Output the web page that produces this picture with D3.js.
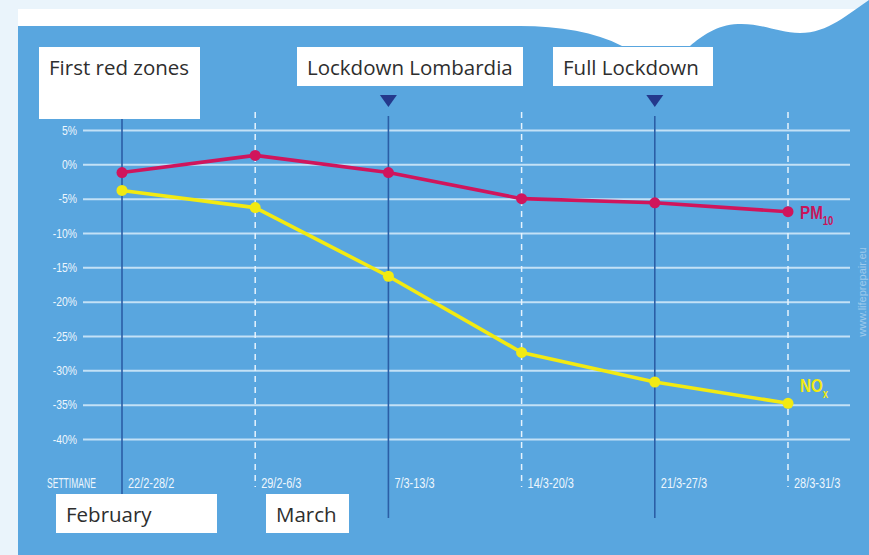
<!DOCTYPE html>
<html><head><meta charset="utf-8">
<script src="https://cdn.jsdelivr.net/npm/d3@7"></script>
<style>
html,body{margin:0;padding:0;background:#eaf4fb;}
svg{display:block;}
</style></head><body>
<svg id="chart" width="869" height="555"></svg>
<script>
// Weekly change in pollutant concentrations (%), Po valley, spring 2020
const weeks = ["22/2-28/2", "29/2-6/3", "7/3-13/3", "14/3-20/3", "21/3-27/3", "28/3-31/3"];
const pm10 = [-1.2, 1.3, -1.2, -5.0, -5.6, -6.9];
const nox = [-3.8, -6.3, -16.3, -27.4, -31.7, -34.8];
const yTicks = [5, 0, -5, -10, -15, -20, -25, -30, -35, -40];
const eventLabels = ["First red zones", "Lockdown Lombardia", "Full Lockdown"];
const eventWeeks = [0, 2, 4];
const monthLabels = ["February", "March"];

const W = 869, H = 555;
const svg = d3.select("#chart");
const narrow = "'Liberation Sans', Arial, sans-serif";
const mainFont = "'Open Sans', 'Noto Sans', sans-serif";
const labelWhite = "#eef6fd";

// Background: pale border, white header, blue panel with wavy top edge
svg.append("rect").attr("width", W).attr("height", H).attr("fill", "#eaf4fb");
svg.append("rect").attr("x", 18).attr("y", 9).attr("width", W - 18).attr("height", 60).attr("fill", "#ffffff");
svg.append("path")
  .attr("fill", "#59a6df")
  .attr("d", "M18,26 L520,26 C560,26 595,32 622,46 L690,46 C702,36 716,25 738,24 C762,23 778,33 800,33 C828,33 848,14 869,0 L869,555 L18,555 Z");

const x = d3.scalePoint().domain(weeks).range([122, 788]);
const y = d3.scaleLinear().domain([-40, 5]).range([439, 130]);

// Condensed text: regular glyphs squeezed horizontally
function narrowText(sel, tx, ty, sx) {
  return sel.attr("transform", `translate(${tx},${ty}) scale(${sx},1)`);
}

// Horizontal gridlines with percentage labels
const yAxis = svg.append("g")
  .attr("transform", "translate(83,0)")
  .call(d3.axisLeft(y).tickValues(yTicks).tickFormat(d => d + "%").tickSizeInner(-(850 - 83)).tickSizeOuter(0).tickPadding(6));
yAxis.select(".domain").remove();
yAxis.selectAll(".tick line").attr("stroke", "#d6ebfa").attr("stroke-opacity", 0.85).attr("stroke-width", 2);
yAxis.selectAll(".tick text")
  .attr("x", null)
  .attr("transform", "translate(-6,0) scale(0.8,1)")
  .attr("fill", labelWhite)
  .style("font-family", narrow)
  .style("font-size", "13px");

// Weekly vertical guides: solid at event weeks, dashed otherwise
const guideTop = [119, 112, 116, 112, 116, 112];
const guideBottom = [518, 487, 518, 487, 518, 487];
weeks.forEach((w, i) => {
  const solid = eventWeeks.includes(i);
  svg.append("line")
    .attr("x1", x(w)).attr("x2", x(w))
    .attr("y1", guideTop[i]).attr("y2", guideBottom[i])
    .attr("stroke", solid ? "#2b5ea6" : "#e6f3fd")
    .attr("stroke-width", solid ? 1.6 : 1.5)
    .attr("stroke-dasharray", solid ? null : "6,5");
});

// Week labels along the bottom
narrowText(svg.append("text"), 47, 488, 0.57).text("SETTIMANE")
  .attr("fill", labelWhite).style("font-family", narrow).style("font-size", "15px");
svg.selectAll("text.week").data(weeks).join("text")
  .attr("class", "week")
  .attr("transform", d => `translate(${x(d) + 6},488) scale(0.73,1)`)
  .text(d => d)
  .attr("fill", labelWhite).style("font-family", narrow).style("font-size", "15px");

// Series lines and markers
const line = d3.line().x((d, i) => x(weeks[i])).y(d => y(d));
const series = [
  { values: nox, color: "#f2ea12" },
  { values: pm10, color: "#d0155c" }
];
series.forEach(s => {
  svg.append("path").datum(s.values).attr("d", line)
    .attr("fill", "none").attr("stroke", s.color).attr("stroke-width", 3.6).attr("stroke-linejoin", "round");
  svg.selectAll(null).data(s.values).join("circle")
    .attr("cx", (d, i) => x(weeks[i])).attr("cy", d => y(d)).attr("r", 5.5)
    .attr("fill", s.color);
});

// Series name labels beside the last point
function seriesLabel(main, sub, color, ty) {
  const t = narrowText(svg.append("text"), x(weeks[weeks.length - 1]) + 12, ty, 0.8)
    .attr("fill", color)
    .style("font-family", narrow)
    .style("font-weight", "bold").style("font-size", "19px");
  t.append("tspan").text(main);
  t.append("tspan").attr("dy", 6).style("font-size", "12px").text(sub);
}
seriesLabel("PM", "10", "#c8155a", y(pm10[pm10.length - 1]) + 7);
seriesLabel("NO", "x", "#f2ea12", y(nox[nox.length - 1]) - 11);

// Event markers: triangles and label boxes
[2, 4].forEach(i => {
  const cx = x(weeks[i]);
  svg.append("path")
    .attr("d", `M${cx - 8.5},95 L${cx + 8.5},95 L${cx},107 Z`)
    .attr("fill", "#24398c");
});
const eventBoxes = [
  { x: 39, y: 47, w: 161, h: 72 },
  { x: 297, y: 47, w: 226, h: 39 },
  { x: 553, y: 47, w: 160, h: 39 }
];
eventLabels.forEach((lab, i) => {
  const b = eventBoxes[i];
  svg.append("rect").attr("x", b.x).attr("y", b.y).attr("width", b.w).attr("height", b.h).attr("fill", "#ffffff");
  svg.append("text").attr("x", b.x + 10).attr("y", 75).text(lab)
    .attr("fill", "#2e2e2e").style("font-family", mainFont).style("font-size", "20.5px");
});

// Month boxes below the week labels
const monthBoxes = [
  { x: 56, y: 494, w: 161, h: 39 },
  { x: 266, y: 494, w: 83, h: 39 }
];
monthLabels.forEach((lab, i) => {
  const b = monthBoxes[i];
  svg.append("rect").attr("x", b.x).attr("y", b.y).attr("width", b.w).attr("height", b.h).attr("fill", "#ffffff");
  svg.append("text").attr("x", b.x + 10).attr("y", 522).text(lab)
    .attr("fill", "#2e2e2e").style("font-family", mainFont).style("font-size", "20.5px");
});

// Source credit along the right edge
svg.append("text")
  .attr("transform", "translate(866,292) rotate(-90)")
  .attr("text-anchor", "middle")
  .text("www.lifeprepair.eu")
  .attr("fill", "#e3f0fb").attr("fill-opacity", 0.5)
  .style("font-family", narrow).style("font-size", "11px");
</script>
</body></html>
